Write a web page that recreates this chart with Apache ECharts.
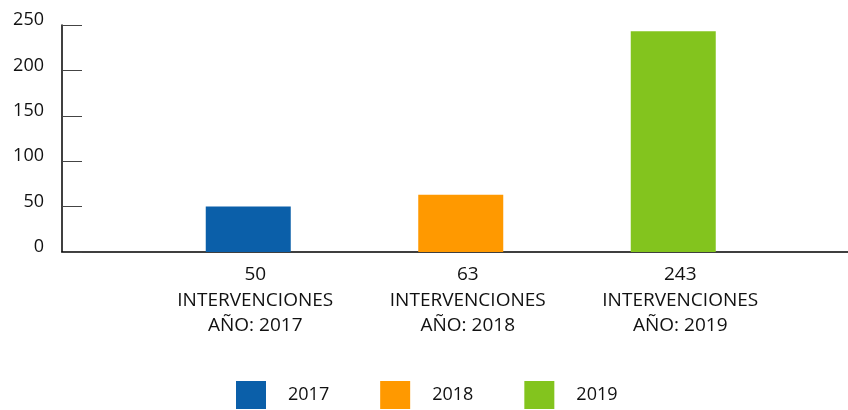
<!DOCTYPE html>
<html>
<head>
<meta charset="utf-8">
<script src="https://cdn.jsdelivr.net/npm/echarts@6/dist/echarts.min.js"></script>
<style>
  html, body { margin: 0; padding: 0; background: #fff; }
  #chart { width: 848px; height: 410px; }
</style>
</head>
<body>
<div id="chart"></div>
<script>
// datos del grafico
var years = ['2017', '2018', '2019'];
var values = [50, 63, 243];
var colors = ['#0b5fa9', '#ff9900', '#83c41e'];
var yTicks = [0, 50, 100, 150, 200, 250];

var categories = years.map(function (y, i) {
  return values[i] + '\nINTERVENCIONES\nAÑO: ' + y;
});

var font = '"Open Sans", "Noto Sans", sans-serif';

var series = years.map(function (y, i) {
  return {
    name: y,
    type: 'bar',
    xAxisIndex: 1,
    yAxisIndex: 1,
    stack: 'todo',
    barWidth: 85,
    itemStyle: { color: colors[i] },
    data: values.map(function (v, j) { return j === i ? v : '-'; })
  };
});

var chart = echarts.init(document.getElementById('chart'));
chart.setOption({
  animation: false,
  textStyle: { fontFamily: font },
  legend: {
    data: years,
    top: 381,
    left: 236,
    padding: 0,
    itemWidth: 30,
    itemHeight: 28,
    itemGap: 51,
    icon: 'rect',
    textStyle: { fontSize: 18, color: '#111', fontFamily: font, padding: [0, 0, 0, 17] }
  },
  grid: [
    { left: 62, right: 0, top: 25, bottom: 158 },
    { left: 142, width: 637.5, top: 25, bottom: 158 }
  ],
  xAxis: [
    {
      gridIndex: 0,
      type: 'category',
      data: categories,
      axisLine: { lineStyle: { color: '#000', width: 1.5 } },
      axisTick: { show: false },
      axisLabel: { show: false }
    },
    {
      gridIndex: 1,
      type: 'category',
      data: categories,
      axisLine: { show: false },
      axisTick: { show: false },
      axisLabel: {
        fontSize: 19,
        color: '#111',
        fontFamily: font,
        lineHeight: 25.5,
        margin: 10,
        padding: [0, 0, 0, 14]
      }
    }
  ],
  yAxis: [
    {
      gridIndex: 0,
      type: 'value',
      min: yTicks[0],
      max: yTicks[yTicks.length - 1],
      interval: 50,
      axisLine: { show: true, lineStyle: { color: '#000', width: 1.5 } },
      axisTick: { show: true, inside: true, length: 20, lineStyle: { color: '#444' } },
      splitLine: { show: false },
      axisLabel: {
        fontSize: 18,
        color: '#111',
        fontFamily: font,
        margin: 18,
        verticalAlign: 'bottom',
        lineHeight: 10
      }
    },
    {
      gridIndex: 1,
      type: 'value',
      min: yTicks[0],
      max: yTicks[yTicks.length - 1],
      interval: 50,
      show: false
    }
  ],
  series: series
});
</script>
</body>
</html>
